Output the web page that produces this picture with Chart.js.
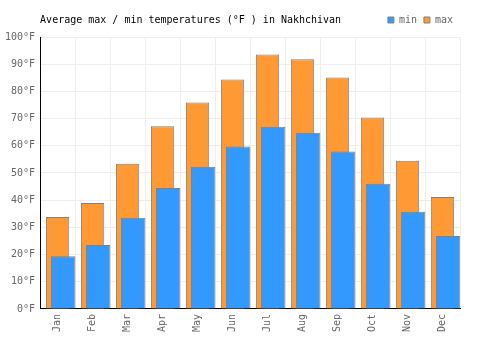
<!DOCTYPE html>
<html>
<head>
<meta charset="utf-8">
<script src="https://cdn.jsdelivr.net/npm/chart.js@4.4.1/dist/chart.umd.min.js"></script>
<style>
  html, body { margin: 0; padding: 0; background: #fff; }
  #wrap { width: 500px; height: 350px; }
</style>
</head>
<body>
<div id="wrap"><canvas id="c" width="500" height="350"></canvas></div>
<script>
const categories = ["Jan","Feb","Mar","Apr","May","Jun","Jul","Aug","Sep","Oct","Nov","Dec"];
const minTemps = [19.4, 23.5, 33.5, 44.5, 52.3, 59.7, 67.0, 64.8, 57.9, 46.0, 35.7, 26.8];
const maxTemps = [33.8, 39.0, 53.4, 67.2, 75.9, 84.4, 93.6, 91.8, 85.1, 70.4, 54.5, 41.2];
const yTicks = [0, 10, 20, 30, 40, 50, 60, 70, 80, 90, 100];
const titleText = "Average max / min temperatures (°F ) in Nakhchivan";

const MONO = "'DejaVu Sans Mono', 'Liberation Mono', monospace";
const minShift = 0.16;

new Chart(document.getElementById('c'), {
  type: 'bar',
  data: {
    labels: categories,
    datasets: [
      {
        label: 'min',
        data: minTemps.map((v, i) => ({ x: i, y: v })),
        xAxisID: 'x2',
        backgroundColor: '#3399ff',
        borderColor: '#808080',
        borderWidth: 1,
        grouped: false,
        categoryPercentage: 1,
        barPercentage: 0.7
      },
      {
        label: 'max',
        data: maxTemps,
        xAxisID: 'x',
        backgroundColor: '#ff9933',
        borderColor: '#808080',
        borderWidth: 1,
        grouped: false,
        categoryPercentage: 1,
        barPercentage: 0.667
      }
    ]
  },
  options: {
    responsive: false,
    animation: false,
    layout: { padding: { left: 0, right: 40, top: 8, bottom: 13 } },
    plugins: {
      title: {
        display: true,
        text: titleText,
        position: 'top',
        align: 'start',
        fullSize: false,
        weight: 0,
        color: '#000',
        font: { family: MONO, size: 10, weight: 'normal', lineHeight: 1.2 },
        padding: { top: -21, bottom: 11 }
      },
      tooltip: { enabled: false },
      legend: {
        display: true,
        position: 'top',
        align: 'end',
        weight: 1000,
        labels: {
          font: { family: MONO, size: 10 },
          color: '#666',
          boxWidth: 6,
          boxHeight: 6,
          padding: 7
        }
      }
    },
    scales: {
      x: {
        type: 'category',
        offset: true,
        grid: { offset: true, color: '#eeeeee', drawTicks: false },
        border: { color: '#000', width: 1 },
        ticks: {
          font: { family: MONO, size: 10 },
          color: '#666',
          minRotation: 90,
          maxRotation: 90,
          padding: 5
        }
      },
      x2: {
        type: 'linear',
        display: false,
        offset: false,
        min: -0.5 - minShift,
        max: categories.length - 0.5 - minShift,
        grid: { display: false }
      },
      y: {
        type: 'linear',
        min: yTicks[0],
        max: yTicks[yTicks.length - 1],
        afterBuildTicks(axis) { axis.ticks = yTicks.map(v => ({ value: v })); },
        grid: { color: '#eeeeee', drawTicks: false },
        border: { color: '#000', width: 1 },
        ticks: {
          font: { family: MONO, size: 10 },
          color: '#666',
          padding: 5,
          callback: (v) => v + '°F'
        }
      }
    }
  }
});
</script>
</body>
</html>
